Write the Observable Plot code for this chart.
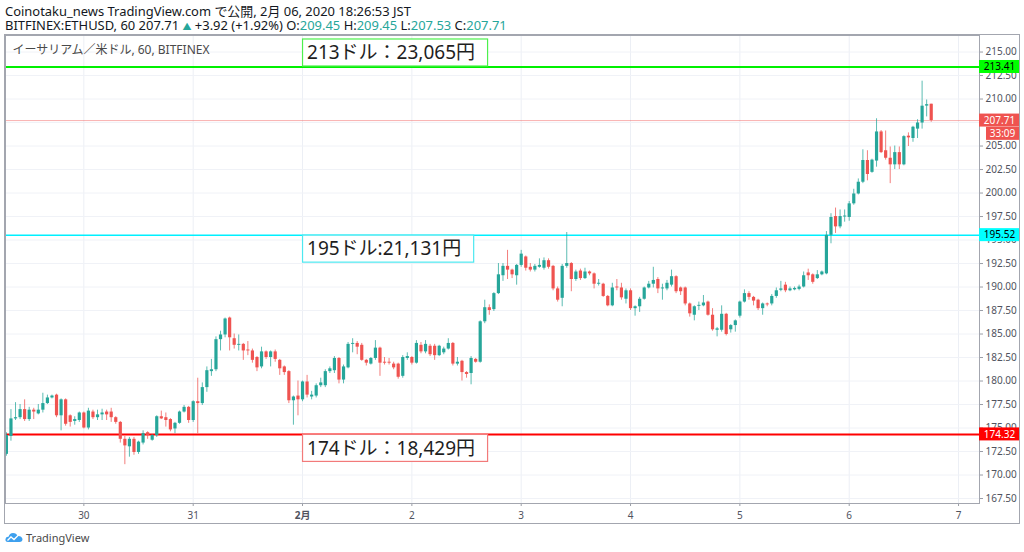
<!DOCTYPE html>
<html><head><meta charset="utf-8">
<script src="https://cdn.jsdelivr.net/npm/d3@7"></script>
<script src="https://cdn.jsdelivr.net/npm/@observablehq/plot@0.6"></script>
<style>
html,body{margin:0;padding:0;background:#fff;}
body{width:1024px;height:552px;overflow:hidden;position:relative;font-family:"Noto Sans","Noto Sans CJK JP",sans-serif;}
#hdr{position:absolute;left:5px;top:5px;font-size:12.95px;line-height:13.5px;color:#131722;white-space:nowrap;}
#hdr .v{color:#26a69a;}
#hdr .tri{color:#26a69a;font-size:9px;}
#chart{position:absolute;left:0;top:33px;}
#border{position:absolute;left:4px;top:34px;width:1014px;height:488px;border:1px solid #a3a6af;pointer-events:none;}
#foot{position:absolute;left:5px;top:530px;height:14px;font-size:11px;color:#4a4a4a;display:flex;align-items:center;gap:3px;}
</style></head>
<body>
<div id="hdr"></div>
<div id="chart"></div>
<div id="border"></div>
<div id="foot"><svg width="18" height="11" viewBox="0 0 18 11"><path d="M3 10 Q0 10 0.5 7 Q1 4.5 3.5 4.8 Q4.5 1 8 1 Q11.5 1 12.5 4 Q16.5 3.5 17.5 7 Q17.5 10 14.5 10 Z" fill="#3ea0ee"/><path d="M2.5 8.5 L6 5 L9 7.5 L13 3.5" stroke="#fff" stroke-width="1.3" fill="none"/></svg><span>TradingView</span></div>
<script>
// ---- data (hours counted from 30 Jan 2020 00:00, one candle per hour) ----
const firstHour = -17;
const open = [
172.2,174.1,175.97,176.1,176.96,175.9,176.9,176.5,176.9,177.6,
178.2,178.5,176.3,178.0,176.3,175.7,175.8,176.6,175.0,176.7,
176.1,176.4,176.7,176.7,176.1,175.6,173.8,173.0,173.8,172.4,
173.4,174.5,173.7,174.2,176.2,176.1,175.9,174.9,175.5,176.7,
177.2,175.8,177.8,177.6,179.3,181.0,181.2,184.4,184.9,186.7,
184.5,183.8,183.9,183.3,183.2,182.5,181.5,183.1,182.5,183.1,
182.2,181.5,181.0,177.9,178.4,178.0,179.9,178.3,178.4,179.5,
179.5,181.0,181.1,182.4,180.1,181.4,183.9,184.0,183.8,182.2,
181.8,182.4,183.5,182.0,182.0,181.8,181.8,180.5,182.4,182.5,
181.9,183.8,183.1,183.7,183.7,182.7,183.0,183.4,184.0,181.8,
182.1,180.9,180.8,182.3,182.0,186.3,187.8,187.6,189.3,191.2,
192.2,191.8,191.2,192.3,193.2,192.1,191.8,192.1,192.0,192.8,
192.2,189.8,188.8,192.2,192.5,190.8,191.7,190.9,191.6,191.4,
190.3,190.3,189.0,188.0,190.0,189.9,188.7,189.6,187.7,187.9,
188.7,189.9,190.3,190.8,189.8,189.8,190.2,191.1,189.9,189.9,
188.2,187.0,187.95,188.0,188.4,187.0,185.4,185.4,187.1,185.45,
185.9,186.9,188.4,189.3,188.9,188.6,187.7,188.2,188.2,189.0,
189.65,190.2,189.6,189.7,189.75,190.0,191.5,191.3,190.9,191.3,
191.4,195.5,197.5,196.4,197.45,197.4,198.85,199.9,201.15,203.46,
202.2,203.4,206.5,204.5,203.7,203.0,204.3,203.0,206.05,205.8,
206.8,207.45,209.25,209.45];
const high = [
174.5,176.96,177.7,177.5,178.0,177.2,177.1,177.5,178.7,178.5,
178.5,178.6,178.1,178.1,176.4,176.2,176.7,176.7,177.1,176.9,
176.9,177.0,176.9,177.1,176.2,175.7,174.1,174.0,174.0,173.6,
174.7,174.6,174.3,176.3,176.8,176.6,176.0,175.6,176.8,177.4,
177.3,177.9,180.3,179.8,181.5,182.3,184.7,185.3,186.7,186.8,
185.0,184.9,184.0,184.2,183.4,182.6,183.6,183.2,183.2,183.3,
182.3,181.6,181.1,178.4,180.0,180.0,180.6,178.9,179.7,180.3,
181.2,181.5,182.6,182.5,181.7,184.1,184.5,184.2,184.0,182.3,
182.5,184.3,183.6,182.5,182.4,182.0,181.9,182.7,183.0,182.6,
184.3,184.1,184.3,183.9,183.9,183.8,183.6,184.5,184.1,182.5,
182.2,181.0,182.6,182.4,186.4,188.6,188.1,189.4,192.5,192.5,
193.9,191.9,192.4,193.9,193.3,192.5,192.4,193.0,193.1,193.0,
192.3,190.0,192.4,195.8,192.6,191.8,191.9,192.0,191.7,191.5,
190.8,190.4,189.1,190.4,190.8,190.4,189.8,189.8,188.0,188.9,
190.0,190.6,192.1,191.0,190.3,190.7,191.8,191.2,190.0,190.0,
188.3,188.0,188.4,189.1,188.5,187.7,185.7,188.0,187.2,186.0,
186.5,188.5,189.7,189.5,189.0,188.7,188.3,188.3,189.2,189.9,
190.6,190.5,190.0,190.0,190.2,191.6,191.9,191.4,191.75,191.7,
195.9,197.8,198.4,198.2,198.2,199.1,200.4,201.5,204.6,204.5,
203.6,207.9,206.65,206.6,204.9,205.0,204.9,206.1,206.4,207.1,
207.8,211.9,209.9,209.45];
const low = [
172.0,173.6,175.8,175.9,175.7,175.7,175.9,176.4,176.6,177.5,
178.1,176.1,174.7,175.2,175.1,175.3,175.6,174.9,174.8,175.9,
175.8,175.8,175.8,175.6,175.4,173.4,171.1,171.9,172.1,172.2,
173.2,173.8,173.6,174.0,175.9,175.1,174.6,174.4,175.4,176.6,
175.5,175.6,174.4,177.4,178.8,180.5,181.0,183.2,184.6,183.2,
183.4,183.2,182.2,182.7,181.9,181.0,181.3,182.3,181.5,182.0,
180.6,180.6,177.6,175.3,176.3,177.8,178.2,178.0,178.2,179.3,
179.3,180.8,180.8,179.7,179.7,181.3,183.0,182.8,182.1,181.6,
181.7,182.2,180.5,181.7,181.7,181.2,180.2,180.3,182.2,181.7,
181.8,182.9,182.9,182.6,182.2,182.6,182.8,183.3,181.6,181.6,
180.0,180.3,179.6,181.9,181.9,186.1,187.0,187.4,189.2,190.6,
190.8,190.9,190.2,192.1,191.7,191.6,191.6,192.0,191.8,191.9,
189.6,188.4,187.9,192.0,189.5,190.6,190.7,190.8,191.2,189.8,
190.1,188.9,187.9,187.9,189.6,188.6,188.2,187.5,186.9,187.3,
188.6,189.8,189.9,189.3,188.6,189.6,190.0,189.3,189.1,188.0,
186.8,186.4,187.5,187.9,186.9,185.3,184.7,185.2,184.8,185.1,
185.2,186.7,188.3,188.6,188.0,187.5,187.0,187.9,188.0,188.8,
189.5,189.4,189.5,189.6,189.6,189.9,190.7,190.3,190.8,191.2,
191.3,194.6,195.7,196.2,196.9,197.0,198.7,199.8,201.0,201.3,
202.1,202.75,204.2,203.5,201.0,202.5,202.5,202.9,204.95,205.4,
205.8,206.8,208.1,207.53];
const close = [
174.2,175.97,176.1,176.96,175.9,176.9,176.7,176.9,177.6,178.2,
178.4,176.3,178.0,175.4,175.6,175.9,176.6,175.0,176.8,176.1,
176.4,176.6,176.4,176.1,175.6,173.8,173.1,173.8,172.4,173.5,
174.4,174.2,174.2,176.2,175.97,175.8,174.8,175.5,176.7,177.2,
175.8,177.8,177.6,179.3,181.1,181.2,184.4,184.9,186.6,184.6,
183.8,183.9,183.2,183.2,182.2,181.4,183.1,182.5,183.1,182.3,
181.3,180.9,177.9,178.3,178.0,179.9,178.5,178.5,179.5,179.8,
181.0,181.3,182.4,180.1,181.5,183.9,184.0,183.6,182.2,181.9,
182.4,183.5,181.9,181.9,181.9,181.4,180.4,182.5,182.6,181.9,
184.0,183.1,183.9,182.8,182.7,183.7,183.4,184.0,181.8,182.0,
180.9,180.7,182.4,182.0,186.3,187.8,187.5,189.3,191.3,192.2,
191.8,191.3,192.3,193.5,192.0,191.8,192.2,192.3,192.8,192.1,
189.8,188.6,192.2,192.5,190.8,191.6,190.9,191.6,191.4,190.3,
190.4,189.0,188.0,189.9,189.9,188.85,189.6,187.7,187.9,188.7,
189.9,190.3,190.7,189.8,189.9,190.4,191.1,189.5,189.5,188.2,
187.15,187.9,188.05,188.3,187.0,185.45,185.55,187.1,184.95,185.9,
186.4,188.4,189.3,188.9,188.5,187.7,188.2,188.1,189.0,189.6,
189.8,189.6,189.8,189.85,190.0,191.2,191.2,190.5,191.3,191.6,
195.5,197.4,196.4,197.5,197.55,198.85,199.9,201.15,203.46,201.97,
203.5,206.5,204.3,203.7,203.0,204.3,203.0,206.0,205.87,207.0,
207.45,209.24,209.4,207.71];
const dayTicks = [0,24,48,72,96,120,144,168,192];
const dayLabels = ["30","31","2月","2","3","4","5","6","7"];
const priceTicks = [167.5,170,172.5,175,177.5,180,182.5,185,187.5,190,192.5,195,197.5,200,202.5,205,207.5,210,212.5,215];
const levels = [213.41, 195.52, 174.32];
const levelNotes = ["213ドル：23,065円", "195ドル:21,131円", "174ドル：18,429円"];
const noteAnchorHour = 48;
const lastPrice = 207.71;
const countdown = "33:09";
const chartTitle = "イーサリアム／米ドル, 60, BITFINEX";
const headerLine1 = "Coinotaku_news TradingView.com で公開, 2月 06, 2020 18:26:53 JST";
const symbolText = "BITFINEX:ETHUSD, 60";
const change = "+3.92 (+1.92%)";

// ---- styles ----
const UP = "#26a69a", DOWN = "#ef5350";
const levelColors = ["#00f000", "#00f0ff", "#ff0000"];
const levelWidths = [2, 1.5, 2];
const noteBorders = ["#4df04d", "#4de8f0", "#f27a7a"];
const noteAbove = [true, false, false];
const tagFills = ["#00ff00", "#00ffff", "#ff0000"];
const tagText = ["#000", "#000", "#fff"];

const n = open.length;
const candles = open.map((o, i) => ({h: firstHour + i, open: o, high: high[i], low: low[i], close: close[i], up: close[i] >= o}));

// header
const L = n - 1;
document.getElementById("hdr").innerHTML =
  `<div>${headerLine1}</div><div>${symbolText} ${close[L].toFixed(2)} <span class="tri">▲</span> ${change} ` +
  `O:<span class="v">${open[L].toFixed(2)}</span> H:<span class="v">${high[L].toFixed(2)}</span> ` +
  `L:<span class="v">${low[L].toFixed(2)}</span> C:<span class="v">${close[L].toFixed(2)}</span></div>`;

const fontFam = '"Noto Sans","Noto Sans CJK JP",sans-serif';
const plot = Plot.plot({
  width: 1024, height: 492,
  marginLeft: 5, marginRight: 45, marginTop: 2, marginBottom: 22,
  style: {background: "transparent", fontFamily: fontFam, fontSize: "10px", color: "#50535e", overflow: "visible"},
  x: {type: "linear", domain: [-17.2, 196.6], label: null},
  y: {type: "linear", domain: [166.97, 216.76], label: null},
  marks: [
    Plot.ruleX(dayTicks, {stroke: "#eceff5", strokeWidth: 1}),
    Plot.ruleY(priceTicks, {stroke: "#f0f2f7", strokeWidth: 1}),
    Plot.axisX(dayTicks, {anchor: "bottom", tickSize: 3, tickPadding: 5, stroke: "#9a9da6", fill: "#50535e", label: null,
      tickFormat: d => dayLabels[dayTicks.indexOf(d)], fontSize: 10}),
    Plot.axisY(priceTicks, {anchor: "right", tickSize: 3, tickPadding: 3, stroke: "#9a9da6", fill: "#50535e", label: null,
      tickFormat: d => d.toFixed(2), fontSize: 10}),
    Plot.ruleY([lastPrice], {stroke: DOWN, strokeOpacity: 0.45, strokeWidth: 1}),
    ...levels.map((v, i) => Plot.ruleY([v], {stroke: levelColors[i], strokeWidth: levelWidths[i]})),
    Plot.ruleX(candles, {x: "h", y1: "low", y2: "high", stroke: d => d.up ? UP : DOWN, strokeOpacity: 0.75, strokeWidth: 1}),
    Plot.ruleX(candles, {x: "h", y1: "open", y2: "close", stroke: d => d.up ? UP : DOWN, strokeWidth: 3.2}),
    Plot.frame({stroke: "#a3a6af", strokeWidth: 1}),
    Plot.text([chartTitle], {frameAnchor: "top-left", dx: 7, dy: 10, textAnchor: "start", fill: "#4a4a4a", fontSize: 12, fontFamily: fontFam}),
    Plot.text(levels, {x: () => noteAnchorHour, y: d => d,
      text: (d, i) => levelNotes[i], textAnchor: "start", fontSize: 19, fill: "#1e1e1e", fontFamily: fontFam, className: "notes"}),
    Plot.text([...levels, lastPrice], {frameAnchor: "right", y: d => d, dx: 20, text: d => d.toFixed(2),
      textAnchor: "middle", fontSize: 10, fill: (d, i) => i < 3 ? tagText[i] : "#fff", fontFamily: fontFam, className: "tags"}),
    Plot.text([lastPrice], {frameAnchor: "right", y: d => d, dx: 23, dy: 13, text: () => countdown,
      textAnchor: "middle", fontSize: 10, fill: "#fff", fontFamily: fontFam, className: "cd"})
  ]
});
document.getElementById("chart").appendChild(plot);

// position helpers via Plot's scales
const ysc = plot.scale("y"), xsc = plot.scale("x");
const lin = (s, v) => s.range[0] + (v - s.domain[0]) / (s.domain[1] - s.domain[0]) * (s.range[1] - s.range[0]);
const Y = v => (ysc.apply ? ysc.apply(v) : lin(ysc, v));
const X = v => (xsc.apply ? xsc.apply(v) : lin(xsc, v));
const svg = d3.select(plot.tagName.toLowerCase() === "svg" ? plot : plot.querySelector("svg"));
const right = 1024 - 45;

// note texts: each sits in a box above / below its line
const boxH = 28;
svg.select("g.notes").attr("transform", null);
const noteTexts = svg.selectAll("g.notes text").nodes();
const bg = svg.insert("g", "g.notes");
noteTexts.forEach((t, i) => {
  const ly = Y(levels[i]);
  const top = noteAbove[i] ? ly - boxH : ly;
  d3.select(t).attr("transform", null).attr("x", X(noteAnchorHour) + 5).attr("y", top + boxH / 2).attr("dy", "0.36em");
  const bb = t.getBBox();
  bg.append("rect").attr("x", X(noteAnchorHour) + 0.5).attr("y", top + 0.5)
    .attr("width", bb.width + 17).attr("height", boxH - 1)
    .attr("fill", "#fff").attr("stroke", noteBorders[i]).attr("stroke-width", 1.2);
});
// price tags
const tagG = svg.insert("g", "g.tags");
[...levels, lastPrice].forEach((v, i) => {
  tagG.append("rect").attr("x", right).attr("y", Y(v) - 6.5).attr("width", 40).attr("height", 13)
    .attr("fill", i < 3 ? tagFills[i] : DOWN);
});
tagG.append("rect").attr("x", right + 7).attr("y", Y(lastPrice) + 6.8).attr("width", 33).attr("height", 13).attr("fill", DOWN);
svg.selectAll("text").filter(function() { return this.textContent === "2月"; }).attr("font-weight", "bold");
</script>
</body></html>
